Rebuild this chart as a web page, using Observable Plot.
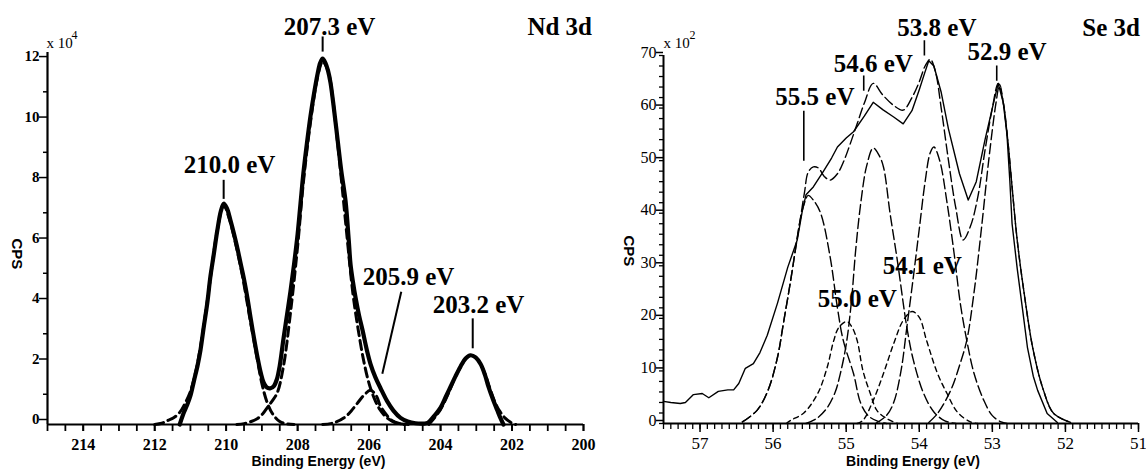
<!DOCTYPE html>
<html><head><meta charset="utf-8">
<script src="https://cdn.jsdelivr.net/npm/d3@7"></script>
<script src="https://cdn.jsdelivr.net/npm/@observablehq/plot@0.6"></script>
<style>
body{margin:0;background:#fff;}
#wrap{display:flex;width:1146px;height:471px;background:#fff;}
</style></head><body><div id="wrap"></div>
<script>
// ---------- Nd 3d panel (binding energy eV, CPS x10^4) ----------
const ndDomainBE = [215, 200];
const ndDomainCPS = [0, 12.3];
const ndMajorX = [214, 212, 210, 208, 206, 204, 202, 200];
const ndMajorY = [0, 2, 4, 6, 8, 10, 12];
const ndMinorY = [1, 3, 5, 7, 9, 11];

const ndEnvelope = [[211.30,0.00],[211.20,0.35],[211.09,0.65],[211.00,0.95],[210.90,1.45],[210.80,1.95],[210.72,2.45],[210.63,3.2],[210.53,4.0],[210.44,4.9],[210.35,5.6],[210.25,6.4],[210.15,7.05],[210.07,7.3],[209.98,7.15],[209.88,6.75],[209.78,6.3],[209.70,5.9],[209.60,5.35],[209.50,4.8],[209.40,4.15],[209.32,3.55],[209.22,2.85],[209.12,2.2],[209.03,1.7],[208.95,1.38],[208.86,1.22],[208.76,1.2],[208.66,1.28],[208.58,1.5],[208.50,1.95],[208.40,2.8],[208.30,3.6],[208.20,4.4],[208.10,5.3],[208.00,6.3],[207.92,7.3],[207.84,8.3],[207.74,9.3],[207.64,10.2],[207.54,10.95],[207.44,11.6],[207.37,11.95],[207.30,12.1],[207.22,11.95],[207.15,11.7],[207.08,11.3],[206.98,10.4],[206.88,9.4],[206.78,8.4],[206.66,7.4],[206.57,6.1],[206.52,5.3],[206.45,4.7],[206.38,4.2],[206.28,3.6],[206.18,3.1],[206.07,2.5],[205.96,2.0],[205.82,1.55],[205.68,1.2],[205.50,0.78],[205.32,0.46],[205.12,0.22],[204.92,0.1],[204.70,0.04],[204.48,0.03],[204.36,0.05],[204.20,0.25],[204.00,0.56],[203.86,0.9],[203.72,1.25],[203.58,1.6],[203.44,1.92],[203.30,2.18],[203.16,2.29],[203.02,2.22],[202.88,2.0],[202.76,1.65],[202.66,1.25],[202.54,0.85],[202.41,0.46],[202.32,0.2],[202.24,0.0]];
const ndPeak2100 = [[212.0,0],[211.8,0.04],[211.64,0.13],[211.47,0.22],[211.3,0.4],[211.15,0.7],[211.0,1.1],[210.85,1.75],[210.7,2.7],[210.55,3.9],[210.4,5.2],[210.25,6.4],[210.07,7.25],[209.9,6.75],[209.75,6.05],[209.55,4.95],[209.35,3.6],[209.15,2.3],[209.0,1.35],[208.85,0.72],[208.7,0.35],[208.5,0.1],[208.3,0.02],[208.1,0]];
const ndPeak2073 = [[209.7,0],[209.5,0.03],[209.3,0.1],[209.12,0.2],[208.98,0.35],[208.85,0.56],[208.7,0.8],[208.57,1.05],[208.4,1.9],[208.2,3.7],[208.0,5.9],[207.84,8.0],[207.64,10.0],[207.44,11.5],[207.3,12.0],[207.15,11.7],[207.0,10.6],[206.88,9.3],[206.75,7.8],[206.6,6.0],[206.45,4.3],[206.3,3.1],[206.15,2.1],[206.0,1.35],[205.85,0.85],[205.7,0.5],[205.5,0.22],[205.3,0.08],[205.1,0.02],[204.9,0]];
const ndPeak2059 = [[207.3,0],[207.0,0.05],[206.7,0.22],[206.5,0.45],[206.33,0.7],[206.15,0.96],[205.96,1.13],[205.8,0.95],[205.68,0.6],[205.5,0.3],[205.35,0.12],[205.15,0.03],[205.0,0]];
const ndPeak2032 = [[204.33,0],[204.15,0.25],[204.0,0.5],[203.85,0.85],[203.72,1.2],[203.58,1.6],[203.44,1.9],[203.3,2.18],[203.16,2.29],[203.0,2.2],[202.88,2.0],[202.75,1.65],[202.62,1.2],[202.5,0.8],[202.35,0.45],[202.2,0.22],[202.05,0.08],[201.9,0]];

const ndLabelText = ["210.0 eV", "207.3 eV", "205.9 eV", "203.2 eV", "Nd 3d"];
const ndLabelBE = [211.19, 208.39, 206.18, 204.22, 201.57];
const ndLabelCPS = [8.32, 12.89, 4.61, 3.68, 12.89];
const ndLeaders = [
  {x1: 210.07, y1: 8.09, x2: 210.07, y2: 7.46},
  {x1: 207.30, y1: 12.83, x2: 207.30, y2: 12.33},
  {x1: 205.10, y1: 4.39, x2: 205.63, y2: 1.68},
  {x1: 203.10, y1: 3.51, x2: 203.10, y2: 2.52}
];

// ---------- Se 3d panel (binding energy eV, CPS x10^2) ----------
const seDomainBE = [57.5, 51];
const seDomainCPS = [0, 70];
const seMajorX = [57, 56, 55, 54, 53, 52, 51];
const seMajorY = [0, 10, 20, 30, 40, 50, 60, 70];

const seRaw = [[57.50,4.2],[57.40,4.0],[57.27,3.8],[57.20,4.0],[57.09,5.5],[56.97,5.7],[56.88,4.9],[56.75,6.1],[56.62,6.4],[56.54,6.4],[56.47,7.6],[56.38,10.5],[56.27,11.4],[56.18,13.5],[56.08,16.8],[55.94,22.9],[55.80,29.7],[55.67,34.9],[55.60,40.5],[55.55,43.5],[55.45,45.0],[55.31,48.0],[55.20,50.5],[55.12,52.6],[55.00,54.3],[54.90,55.5],[54.75,58.5],[54.63,61.1],[54.50,59.7],[54.35,58.3],[54.22,57.0],[54.10,59.5],[54.00,63.5],[53.93,66.5],[53.87,69.0],[53.80,68.0],[53.70,63.0],[53.60,56.0],[53.45,47.5],[53.33,42.5],[53.22,46.0],[53.10,54.0],[53.00,60.0],[52.92,64.7],[52.85,61.0],[52.80,55.0],[52.76,46.0],[52.73,38.0],[52.66,29.5],[52.58,21.0],[52.52,14.5],[52.44,9.0],[52.38,6.3],[52.25,1.9],[52.11,0.2]];
const seEnvelope = [[56.42,0.3],[56.22,2.5],[56.07,6.3],[55.94,12.6],[55.86,19],[55.76,27.2],[55.69,33.5],[55.63,38.7],[55.57,44],[55.52,47.8],[55.45,48.8],[55.38,48.6],[55.30,47],[55.22,46.3],[55.12,47.5],[55.03,50],[54.95,53],[54.85,57],[54.75,61],[54.63,64.7],[54.50,62.5],[54.35,60.5],[54.22,59.6],[54.10,62],[54.00,65],[53.92,68],[53.85,69.3],[53.78,67],[53.70,60],[53.60,50],[53.50,41],[53.40,34.9],[53.30,37.5],[53.20,43],[53.10,52],[53.00,60],[52.92,64.7],[52.85,61],[52.79,54],[52.73,45],[52.66,34.9],[52.57,25.3],[52.44,13.9],[52.30,6.3],[52.16,1.9],[51.93,0.2]];
const sePeak555 = [[56.42,0.3],[56.22,2.5],[56.07,6.3],[55.94,12.6],[55.86,19],[55.76,27.2],[55.69,33.5],[55.63,38.7],[55.57,42],[55.52,43.4],[55.45,42.5],[55.35,40],[55.22,31.7],[55.12,22],[55.04,15.8],[54.90,9.5],[54.80,3.8],[54.70,1.5],[54.58,0.5],[54.45,0]];
const sePeak550 = [[55.82,0],[55.76,0.6],[55.58,2],[55.39,5.7],[55.26,10.7],[55.17,15.8],[55.10,18.3],[54.99,19.4],[54.92,18.3],[54.85,15.8],[54.77,10],[54.67,5.7],[54.58,2.5],[54.44,0.9],[54.30,0]];
const sePeak546 = [[55.55,0],[55.40,1],[55.26,3],[55.15,6],[55.08,9.5],[55.00,15],[54.93,23],[54.87,33],[54.80,42],[54.72,49],[54.63,52.4],[54.55,51],[54.49,48.8],[54.40,40],[54.30,31],[54.17,18.3],[54.08,12],[53.94,5.7],[53.80,2.2],[53.65,0.5],[53.50,0]];
const sePeak541 = [[54.85,0],[54.77,0.6],[54.63,4.4],[54.49,9.5],[54.35,15.2],[54.22,19.6],[54.10,21.3],[54.00,20.2],[53.90,15.8],[53.75,9.5],[53.62,5.7],[53.48,2.2],[53.30,0.3],[53.20,0]];
const sePeak538 = [[54.60,0],[54.45,1.5],[54.35,4],[54.25,10],[54.17,18.3],[54.08,28],[54.00,37],[53.92,46],[53.85,51.5],[53.80,52.6],[53.72,50],[53.62,42],[53.52,32],[53.44,23],[53.35,15.8],[53.25,9.5],[53.12,4.5],[53.00,1.5],[52.88,0.3],[52.80,0]];
const sePeak529 = [[53.87,0.2],[53.75,1.9],[53.57,6.3],[53.45,11],[53.35,15.8],[53.25,25],[53.15,37],[53.05,50],[52.95,61],[52.90,64.5],[52.85,61],[52.79,54],[52.73,45],[52.66,34.9],[52.57,25.3],[52.44,13.9],[52.30,6.3],[52.16,1.9],[51.93,0.2]];

const seLabelText = ["55.5 eV", "54.6 eV", "53.8 eV", "52.9 eV", "55.0 eV", "54.1 eV", "Se 3d"];
const seLabelBE = [55.97, 55.17, 54.30, 53.34, 55.39, 54.50, 51.77];
const seLabelCPS = [60.5, 66.8, 73.8, 69.05, 22.1, 28.5, 73.8];
const seLeaders = [
  {x1: 55.58, y1: 59.5, x2: 55.58, y2: 50.0},
  {x1: 54.76, y1: 66.2, x2: 54.76, y2: 63.3},
  {x1: 53.93, y1: 72.9, x2: 53.93, y2: 70.0},
  {x1: 52.94, y1: 68.1, x2: 52.94, y2: 65.2}
];

// ---------- drawing ----------
const serif = "Liberation Serif, Times New Roman, serif";
const sans = "Liberation Sans, Arial, sans-serif";
const X = d => d[0], Y = d => d[1];
const baseStyle = {background: "#fff", color: "#000", fontFamily: serif, overflow: "visible"};

const left = Plot.plot({
  width: 600, height: 471,
  marginLeft: 47, marginRight: 17, marginTop: 52, marginBottom: 47,
  x: {domain: ndDomainBE, axis: null},
  y: {domain: ndDomainCPS, axis: null},
  style: baseStyle,
  marks: [
    ...[ndPeak2100, ndPeak2073, ndPeak2059, ndPeak2032].map(p =>
      Plot.line(p, {x: X, y: Y, stroke: "#000", strokeWidth: 3, strokeDasharray: "9,5", curve: "catmull-rom"})),
    Plot.line(ndEnvelope, {x: X, y: Y, stroke: "#000", strokeWidth: 4.2, strokeLinejoin: "round", curve: "catmull-rom"}),
    Plot.ruleY([ndDomainCPS[0]], {strokeWidth: 2.2}),
    Plot.ruleX([ndDomainBE[0]], {strokeWidth: 2.2}),
    Plot.axisX(d3.range(200, 215.01, 0.5), {tickSize: 7, strokeWidth: 1.8, tickFormat: () => "", label: null}),
    Plot.axisX(ndMajorX, {tickSize: 7, strokeWidth: 1.8, tickPadding: 7, fontSize: 16, fontWeight: "bold", fontFamily: serif, tickFormat: d => String(d), label: null}),
    Plot.axisY(ndMinorY, {tickSize: 4, strokeWidth: 1.5, tickFormat: () => "", label: null}),
    Plot.axisY(ndMajorY, {tickSize: 8, strokeWidth: 1.5, tickPadding: 0, dy: -5, fontSize: 15, fontWeight: "bold", fontFamily: serif, tickFormat: d => String(d), label: null}),
    Plot.link(ndLeaders, {x1: "x1", y1: "y1", x2: "x2", y2: "y2", strokeWidth: 2}),
    Plot.text(ndLabelText, {x: ndLabelBE, y: ndLabelCPS, text: d => d, textAnchor: "start", lineAnchor: "bottom", fontSize: 25, fontWeight: "bold", fontFamily: serif}),
    Plot.text(["x 10"], {frameAnchor: "top-left", textAnchor: "start", lineAnchor: "bottom", dx: -1, dy: -5, fontSize: 15, fontFamily: serif}),
    Plot.text(["4"], {frameAnchor: "top-left", textAnchor: "start", lineAnchor: "bottom", dx: 24, dy: -14, fontSize: 12, fontFamily: serif}),
    Plot.text(["CPS"], {frameAnchor: "left", rotate: 90, dx: -31, fontSize: 15, fontWeight: "bold", fontFamily: sans}),
    Plot.text(["Binding Energy (eV)"], {frameAnchor: "bottom", lineAnchor: "bottom", dx: 3, dy: 41, fontSize: 14, fontWeight: "bold", fontFamily: sans})
  ]
});

const right = Plot.plot({
  width: 546, height: 471,
  marginLeft: 63, marginRight: 8, marginTop: 55, marginBottom: 48,
  x: {domain: seDomainBE, axis: null},
  y: {domain: seDomainCPS, axis: null},
  style: baseStyle,
  marks: [
    ...[sePeak555, sePeak546, sePeak538, sePeak529].map(p =>
      Plot.line(p, {x: X, y: Y, stroke: "#000", strokeWidth: 1.4, strokeDasharray: "10,4", curve: "catmull-rom"})),
    ...[sePeak550, sePeak541].map(p =>
      Plot.line(p, {x: X, y: Y, stroke: "#000", strokeWidth: 1.4, strokeDasharray: "5,4", curve: "catmull-rom"})),
    Plot.line(seEnvelope, {x: X, y: Y, stroke: "#000", strokeWidth: 1.4, strokeDasharray: "10,4", curve: "catmull-rom"}),
    Plot.line(seRaw, {x: X, y: Y, stroke: "#000", strokeWidth: 1.4, curve: "linear"}),
    Plot.ruleY([seDomainCPS[0]], {strokeWidth: 2}),
    Plot.ruleX([seDomainBE[0]], {strokeWidth: 2}),
    Plot.axisX(d3.range(51, 57.501, 0.1), {tickSize: 6, strokeWidth: 1.3, tickFormat: () => "", label: null}),
    Plot.axisX(seMajorX, {tickSize: 9, strokeWidth: 1.5, tickPadding: 4, fontSize: 17, fontFamily: serif, tickFormat: d => String(d), label: null}),
    Plot.axisY(d3.range(0, 70.01, 2), {tickSize: 4, strokeWidth: 1.3, tickFormat: () => "", label: null}),
    Plot.axisY(seMajorY, {tickSize: 7, strokeWidth: 1.5, tickPadding: 0, dy: -3, fontSize: 16, fontFamily: serif, tickFormat: d => String(d), label: null}),
    Plot.link(seLeaders, {x1: "x1", y1: "y1", x2: "x2", y2: "y2", strokeWidth: 1.6}),
    Plot.text(seLabelText, {x: seLabelBE, y: seLabelCPS, text: d => d, textAnchor: "start", lineAnchor: "bottom", fontSize: 25, fontWeight: "bold", fontFamily: serif}),
    Plot.text(["x 10"], {frameAnchor: "top-left", textAnchor: "start", lineAnchor: "bottom", dx: 0, dy: -8, fontSize: 15, fontFamily: serif}),
    Plot.text(["2"], {frameAnchor: "top-left", textAnchor: "start", lineAnchor: "bottom", dx: 26, dy: -17, fontSize: 12, fontFamily: serif}),
    Plot.text(["CPS"], {frameAnchor: "left", rotate: 90, dx: -35, dy: -4, fontSize: 15, fontWeight: "bold", fontFamily: sans}),
    Plot.text(["Binding Energy (eV)"], {frameAnchor: "bottom", lineAnchor: "bottom", dx: 12, dy: 42, fontSize: 14, fontWeight: "bold", fontFamily: sans})
  ]
});

document.getElementById("wrap").append(left, right);
</script></body></html>
